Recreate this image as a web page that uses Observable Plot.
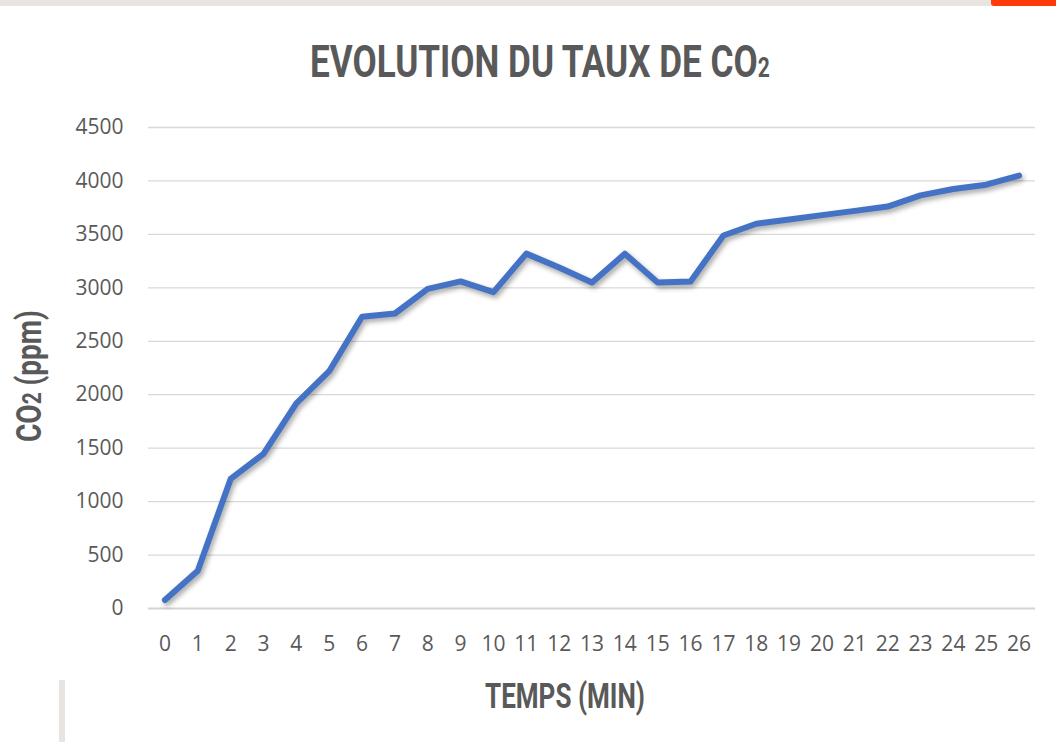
<!DOCTYPE html>
<html>
<head>
<meta charset="utf-8">
<script src="https://cdn.jsdelivr.net/npm/d3@7"></script>
<script src="https://cdn.jsdelivr.net/npm/@observablehq/plot@0.6"></script>
<style>
  html, body { margin: 0; padding: 0; background: #fff; width: 1056px; height: 742px; overflow: hidden; }
  body { position: relative; font-family: "Open Sans", sans-serif; }
  #topbar { position: absolute; left: 0; top: 0; width: 1056px; height: 6px; background: #E8E5E0; }
  #topaccent { position: absolute; left: 991px; top: 0; width: 65px; height: 6px; background: #FF3A0A; border-bottom-left-radius: 3px; }
  #sidebar { position: absolute; left: 59px; top: 680px; width: 6px; height: 62px; background: #E8E5E0; }
  #chart { position: absolute; left: 0; top: 100px; }
  #chart g[aria-label="line"] { filter: drop-shadow(2px 3px 2.5px rgba(0,0,0,0.35)); }
  #labels { position: absolute; left: 0; top: 0; pointer-events: none; }
  #labels text { font-family: Roboto, "DejaVu Sans", sans-serif; font-weight: 700; fill: #595959; }
</style>
</head>
<body>
<div id="topbar"></div>
<div id="topaccent"></div>
<div id="sidebar"></div>
<div id="chart"></div>
<svg id="labels" width="1056" height="742" xmlns="http://www.w3.org/2000/svg">
  <text id="title" x="0" y="0" font-size="45">EVOLUTION DU TAUX DE CO<tspan font-size="27">2</tspan></text>
  <text id="ylab" x="0" y="0" font-size="35">CO<tspan font-size="26">2</tspan> (ppm)</text>
  <text id="xlab" x="0" y="0" font-size="35">TEMPS (MIN)</text>
</svg>
<script>
// ---- data ----
const minutes = [0, 1, 2, 3, 4, 5, 6, 7, 8, 9, 10, 11, 12, 13, 14, 15, 16, 17, 18, 19, 20, 21, 22, 23, 24, 25, 26];
const co2ppm = [80, 353, 1212, 1446, 1920, 2220, 2730, 2760, 2990, 3060, 2960, 3320, 3190, 3050, 3320, 3050, 3060, 3490, 3600, 3640, 3680, 3720, 3760, 3865, 3925, 3965, 4050];
const yTicks = [0, 500, 1000, 1500, 2000, 2500, 3000, 3500, 4000, 4500];
const titleText = "EVOLUTION DU TAUX DE CO₂";
const xLabelText = "TEMPS (MIN)";
const yLabelText = "CO₂ (ppm)";

const rows = minutes.map((m, i) => ({minute: m, co2: co2ppm[i]}));

const chart = Plot.plot({
  width: 1056,
  height: 580,
  marginLeft: 148,
  marginRight: 21,
  marginTop: 27,
  marginBottom: 72,
  style: {fontFamily: "'Open Sans', sans-serif", fontSize: "21px", color: "#595959", background: "transparent", overflow: "visible"},
  x: {type: "point", domain: minutes, padding: 0.5, round: false, label: null},
  y: {domain: [0, 4500], label: null},
  marks: [
    Plot.ruleY(yTicks.filter(d => d > 0), {stroke: "#d9d9d9", strokeWidth: 1.3}),
    Plot.ruleY([0], {stroke: "#d3d3d3", strokeWidth: 2.2}),
    Plot.axisY(yTicks, {tickSize: 0, tickPadding: 25, fill: "#595959", tickFormat: d => String(d), label: null}),
    Plot.axisX(minutes, {tickSize: 0, tickPadding: 28, fill: "#595959", tickFormat: d => String(d), label: null}),
    Plot.line(rows, {x: "minute", y: "co2", stroke: "#4472C4", strokeWidth: 6, strokeLinecap: "round", strokeLinejoin: "round"})
  ]
});
document.getElementById("chart").appendChild(chart);

// ---- fit condensed labels into their boxes ----
function fitH(id, left, baseline, targetW) {
  const t = document.getElementById(id);
  const w = t.getComputedTextLength();
  const s = targetW / w;
  t.setAttribute("transform", `translate(${left},${baseline}) scale(${s},1)`);
}
function fitV(id, baselineX, bottomY, targetL) {
  const t = document.getElementById(id);
  const w = t.getComputedTextLength();
  const s = targetL / w;
  t.setAttribute("transform", `translate(${baselineX},${bottomY}) rotate(-90) scale(${s},1)`);
}
fitH("title", 310, 77, 460);
fitH("xlab", 485, 708, 160);
fitV("ylab", 41, 442, 132);
</script>
</body>
</html>
